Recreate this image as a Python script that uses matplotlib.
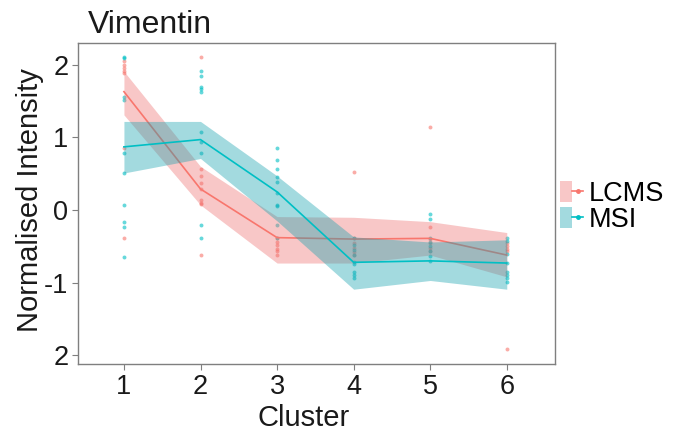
import numpy as np
import matplotlib
matplotlib.use("Agg")
import matplotlib.pyplot as plt
from matplotlib.patches import Patch
from matplotlib.lines import Line2D
from matplotlib.legend_handler import HandlerTuple

plt.rcParams['font.family'] = ['Liberation Sans', 'DejaVu Sans']

clusters = [1, 2, 3, 4, 5, 6]

# individual points per cluster
lcms_pts = [
    [2.05, 2.00, 1.95, 1.91, 1.89, 0.86, -0.38],
    [2.11, 0.57, 0.47, 0.37, 0.29, 0.14, 0.10, 0.08, -0.62],
    [-0.38, -0.44, -0.48, -0.53, -0.57, -0.62],
    [0.53, -0.38, -0.45, -0.52, -0.58, -0.62],
    [1.15, -0.24, -0.40, -0.46, -0.52, -0.56],
    [-0.45, -0.50, -0.53, -0.56, -1.91],
]
msi_pts = [
    [2.11, 2.09, 1.56, 1.52, 0.79, 0.51, 0.07, -0.16, -0.24, -0.64],
    [1.92, 1.84, 1.70, 1.66, 1.63, 1.08, 0.94, 0.78, -0.21, -0.38],
    [0.86, 0.69, 0.56, 0.46, 0.39, 0.24, 0.07, 0.05, -0.21, -0.38],
    [-0.38, -0.48, -0.55, -0.62, -0.72, -0.74, -0.85, -0.90, -0.93],
    [-0.05, -0.12, -0.38, -0.44, -0.50, -0.56, -0.63, -0.70],
    [-0.38, -0.42, -0.61, -0.73, -0.86, -0.90, -0.94, -0.99],
]

# summary line and ribbon
lcms_mean = [1.63, 0.29, -0.38, -0.40, -0.39, -0.62]
lcms_hi = [1.91, 0.60, -0.09, -0.10, -0.16, -0.31]
lcms_lo = [1.31, 0.07, -0.73, -0.73, -0.62, -0.92]

msi_mean = [0.87, 0.97, 0.25, -0.72, -0.70, -0.73]
msi_hi = [1.22, 1.22, 0.47, -0.37, -0.44, -0.41]
msi_lo = [0.51, 0.71, -0.15, -1.09, -0.97, -1.09]

ytick_vals = [2, 1, 0, -1, -2]
ytick_labels = ['2', '1', '0', '-1', '2']

pink = '#F8766D'
cyan = '#00BFC4'
pink_band = '#EE7474'
cyan_band = '#1AA3B0'

fig = plt.figure(figsize=(6.83, 4.32), dpi=100)
ax = fig.add_axes([78 / 683, 1 - 364 / 432, 477 / 683, 321 / 432])

for pts, col in [(lcms_pts, pink), (msi_pts, cyan)]:
    for c, vals in zip(clusters, pts):
        ax.scatter([c] * len(vals), vals, s=8, color=col, alpha=0.6,
                   linewidths=0, zorder=2)

z = 3
for mean, lo, hi, col, bcol in [(lcms_mean, lcms_lo, lcms_hi, pink, pink_band),
                                (msi_mean, msi_lo, msi_hi, cyan, cyan_band)]:
    ax.fill_between(clusters, lo, hi, color=bcol, alpha=0.4, linewidth=0, zorder=z)
    ax.plot(clusters, mean, color=col, lw=1.2, zorder=z + 1)
    z += 2

ax.set_xlim(0.4, 6.63)
ax.set_ylim(-2.12, 2.3)
ax.set_xticks(clusters)
ax.set_yticks(ytick_vals)
ax.set_yticklabels(ytick_labels)
ax.tick_params(labelsize=19.5, color='#7f7f7f', length=4, width=0.8,
               labelcolor='#1a1a1a', pad=3)
for s in ax.spines.values():
    s.set_color('#7f7f7f')
    s.set_linewidth(1.0)

ax.set_xlabel('Cluster', fontsize=21, color='#1a1a1a', labelpad=0)
ax.xaxis.set_label_coords(0.472, -0.125)
ax.set_ylabel('Normalised Intensity', fontsize=21, color='#1a1a1a')
ax.yaxis.set_label_coords(-0.072, 0.51)
fig.text(88 / 683, 1 - 33 / 432, 'Vimentin', fontsize=23, color='#1a1a1a',
         va='baseline', ha='left')

handles = [
    (Patch(facecolor=pink_band, alpha=0.4, edgecolor='none'),
     Line2D([], [], color=pink, lw=1.2, marker='o', markersize=2.5)),
    (Patch(facecolor=cyan_band, alpha=0.4, edgecolor='none'),
     Line2D([], [], color=cyan, lw=1.2, marker='o', markersize=2.5)),
]
ax.legend(handles, ['LCMS', 'MSI'], handler_map={tuple: HandlerTuple(ndivide=None, pad=0)},
          loc='center left', bbox_to_anchor=(1.0, 0.49), frameon=False,
          fontsize=19.5, handlelength=0.85, handleheight=0.8, handletextpad=0.2,
          labelspacing=0.0, borderpad=0.1, borderaxespad=0.1)

fig.savefig('out.png', dpi=100)
